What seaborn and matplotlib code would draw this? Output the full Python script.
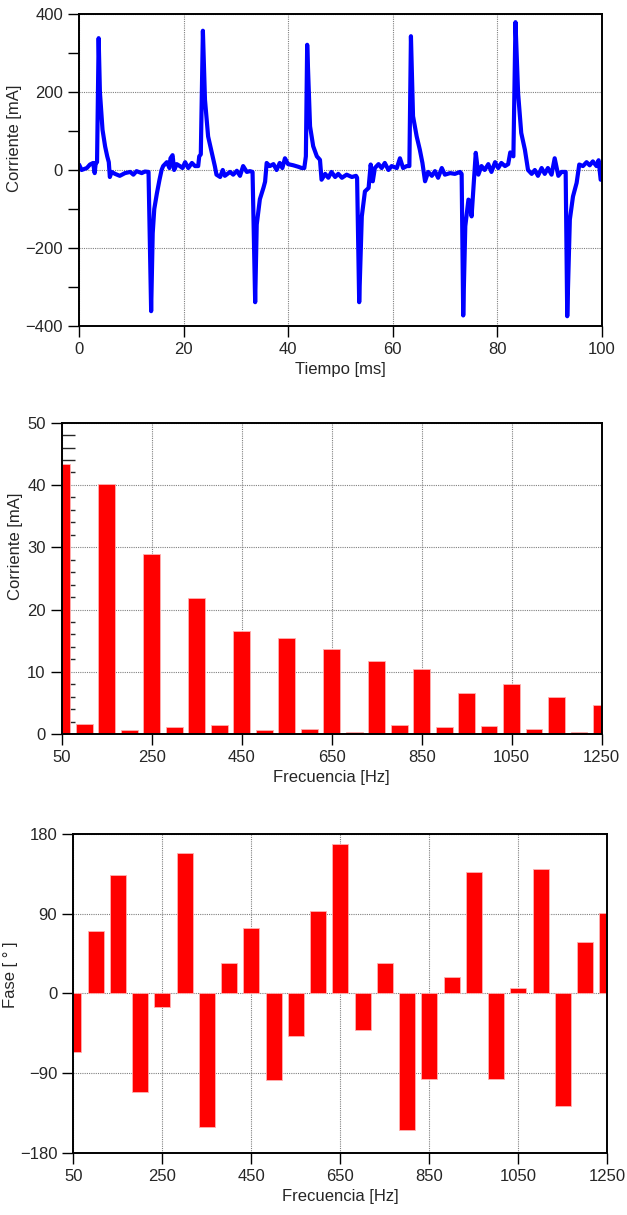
import numpy as np
import pandas as pd
import matplotlib
matplotlib.use("Agg")
import matplotlib.pyplot as plt
from matplotlib.ticker import MultipleLocator, FixedLocator
import seaborn as sns

# corriente en el tiempo
tiempo_ms = [0.0, 0.5, 1.5, 2.1, 2.7, 3.0, 3.2, 3.45, 3.76, 4.0, 4.5, 5.0, 5.4, 5.7, 5.9,
             6.25, 6.9, 7.8, 8.8, 9.8, 10.4, 11.0, 12.0, 12.6, 13.3, 13.8, 14.1, 14.4,
             14.9, 15.4, 15.8, 16.1, 16.8, 17.3, 17.5, 17.9, 18.2, 18.7, 19.3, 19.8,
             20.3, 20.9, 21.6, 22.2, 22.8, 23.0, 23.3, 23.7, 24.1, 24.7, 25.4, 26.0,
             26.3, 27.0, 27.5, 27.9, 28.9, 29.5, 30.2, 30.8, 31.4, 32.1, 32.7, 33.2,
             33.7, 34.0, 34.6, 35.3, 35.6, 35.9, 36.5, 37.2, 37.8, 38.4, 38.9, 39.4,
             40.0, 41.0, 42.0, 42.6, 43.1, 43.4, 43.65, 44.2, 44.8, 45.5, 46.1, 46.4,
             47.1, 47.7, 48.3, 49.0, 49.6, 50.3, 51.2, 52.2, 53.0, 53.2, 53.6, 54.1,
             54.7, 55.4, 55.8, 56.2, 56.6, 57.3, 57.9, 58.5, 59.2, 59.8, 60.8, 61.4,
             62.0, 62.7, 63.2, 63.5, 63.9, 64.6, 65.2, 65.7, 66.2, 66.8, 67.5, 68.1,
             68.7, 69.4, 70.0, 71.0, 71.9, 72.9, 73.2, 73.5, 73.9, 74.5, 74.8, 75.1,
             75.4, 75.9, 76.4, 77.0, 77.6, 78.3, 78.9, 79.6, 80.2, 80.8, 81.5, 82.1,
             82.5, 83.1, 83.5, 84.0, 84.6, 85.3, 85.9, 86.6, 87.2, 87.8, 88.5, 89.1,
             89.7, 90.4, 91.0, 91.7, 92.3, 93.1, 93.4, 93.9, 94.5, 95.2, 95.7, 96.4,
             97.1, 97.7, 98.3, 99.0, 99.4, 99.8, 100.0]
corriente_ma = [14, 0, 5, 14, 18, -8, 18, 20, 338, 200, 103, 60, 35, 20, -18,
                -5, -10, -15, -8, -5, -12, -3, -8, -4, -5, -362, -162, -100,
                -60, -25, 0, 10, 20, 5, 30, 38, 0, 15, 10, 5,
                20, 5, 18, 10, 10, 35, 40, 357, 180, 86, 44, 9,
                -12, -18, 0, -15, -5, -12, -2, -15, 10, -5, -3, -5,
                -339, -140, -75, -45, -30, 18, 10, 15, 0, 18, 5, 30,
                15, 12, 8, 5, 5, 35, 321, 112, 61, 35, 26, -25,
                -10, -20, -5, -18, -10, -20, -12, -18, -15, -20, -339, -119,
                -55, -46, 14, -29, 5, 15, 5, 18, 0, 10, 5, 30,
                5, 10, 10, 343, 138, 86, 52, 18, -29, -5, -15, -3,
                -20, 5, -12, -8, -10, -5, -10, -373, -144, -76, -80, -119,
                -59, 44, -12, 10, 0, 15, -5, 20, 5, 18, 10, 15,
                45, 35, 379, 197, 95, 52, 0, -10, 0, -15, 5, -10,
                5, -12, 30, -15, -5, -5, -375, -127, -68, -33, 14, 10,
                20, 12, 22, 10, 25, -25, -25]

# espectro: armonicos de 50 Hz
frecuencia_hz = [50, 100, 150, 200, 250, 300, 350, 400, 450, 500, 550, 600, 650,
                 700, 750, 800, 850, 900, 950, 1000, 1050, 1100, 1150, 1200, 1250]
amplitud_ma = [43.4, 1.6, 40.2, 0.7, 28.9, 1.2, 21.8, 1.4, 16.5, 0.7, 15.5, 0.9, 13.7,
               0.4, 11.8, 1.4, 10.5, 1.2, 6.6, 1.3, 8.1, 0.8, 6.0, 0.4, 4.7]
fase_deg = [-66, 70, 134, -111, -15, 159, -151, 34, 74, -98, -48, 93, 169,
            -41, 34, -154, -97, 18, 137, -97, 6, 140, -127, 58, 91]
ticks_frec = [50, 250, 450, 650, 850, 1050, 1250]

sns.set_style("ticks")
plt.rcParams["font.family"] = ["Liberation Sans Narrow", "Liberation Sans", "DejaVu Sans"]
plt.rcParams["axes.linewidth"] = 1.4

fig = plt.figure(figsize=(6.27, 12.15), dpi=100)
ax1 = fig.add_axes([0.126, 0.7317, 0.8337, 0.2568])
ax2 = fig.add_axes([0.0984, 0.3957, 0.8612, 0.2565])
ax3 = fig.add_axes([0.1169, 0.0513, 0.8517, 0.2623])

grid_kw = dict(color="#808080", linewidth=0.8, linestyle=(0, (1, 1)))
tick_kw = dict(direction="out", length=8, width=1, labelsize=12, color="black")

df_t = pd.DataFrame({"t": tiempo_ms, "i": corriente_ma})
sns.lineplot(data=df_t, x="t", y="i", color="#0000ff", linewidth=3.0, ax=ax1)
ax1.set_xlim(0, 100)
ax1.set_ylim(-400, 400)
ax1.xaxis.set_major_locator(MultipleLocator(20))
ax1.yaxis.set_major_locator(MultipleLocator(200))
ax1.yaxis.set_minor_locator(FixedLocator([-300, -100, 100, 300]))
ax1.tick_params(which="both", **tick_kw)
ax1.grid(True, which="major", **grid_kw)
ax1.set_xlabel("Tiempo [ms]", fontsize=12, labelpad=0)
ax1.set_ylabel("Corriente [mA]", fontsize=12)
ax1.yaxis.set_label_coords(-0.109, 0.6)
ax1.xaxis.set_label_coords(0.5, -0.115)

df_a = pd.DataFrame({"f": frecuencia_hz, "a": amplitud_ma})
sns.barplot(data=df_a, x="f", y="a", native_scale=True, width=0.74, color="#ff0000",
            saturation=1, edgecolor="#ffb0b0", linewidth=0.6, errorbar=None, ax=ax2)
ax2.set_xlim(50, 1250)
ax2.set_ylim(0, 50)
ax2.xaxis.set_major_locator(FixedLocator(ticks_frec))
ax2.yaxis.set_major_locator(MultipleLocator(10))
ax2.yaxis.set_minor_locator(MultipleLocator(2))
ax2.tick_params(which="major", **tick_kw)
ax2.tick_params(which="minor", direction="in", length=9, width=1, left=True)
ax2.grid(True, which="major", **grid_kw)
ax2.set_axisbelow(True)
ax2.set_xlabel("Frecuencia [Hz]", fontsize=12)
ax2.set_ylabel("Corriente [mA]", fontsize=12)
ax2.yaxis.set_label_coords(-0.072, 0.604)
ax2.xaxis.set_label_coords(0.5, -0.115)

df_f = pd.DataFrame({"f": frecuencia_hz, "p": fase_deg})
sns.barplot(data=df_f, x="f", y="p", native_scale=True, width=0.72, color="#ff0000",
            saturation=1, edgecolor="#ffb0b0", linewidth=0.6, errorbar=None, ax=ax3)
ax3.set_xlim(50, 1250)
ax3.set_ylim(-180, 180)
ax3.xaxis.set_major_locator(FixedLocator(ticks_frec))
ax3.yaxis.set_major_locator(MultipleLocator(90))
ax3.tick_params(which="major", **tick_kw)
ax3.grid(True, which="major", **grid_kw)
ax3.set_axisbelow(True)
ax3.set_xlabel("Frecuencia [Hz]", fontsize=12)
ax3.set_ylabel("Fase [ ° ]", fontsize=12)
ax3.yaxis.set_label_coords(-0.104, 0.557)
ax3.xaxis.set_label_coords(0.5, -0.115)

for ax in (ax1, ax2, ax3):
    for s in ax.spines.values():
        s.set_visible(True)
        s.set_color("black")

fig.savefig("out.png", dpi=100)
plt.close(fig)
